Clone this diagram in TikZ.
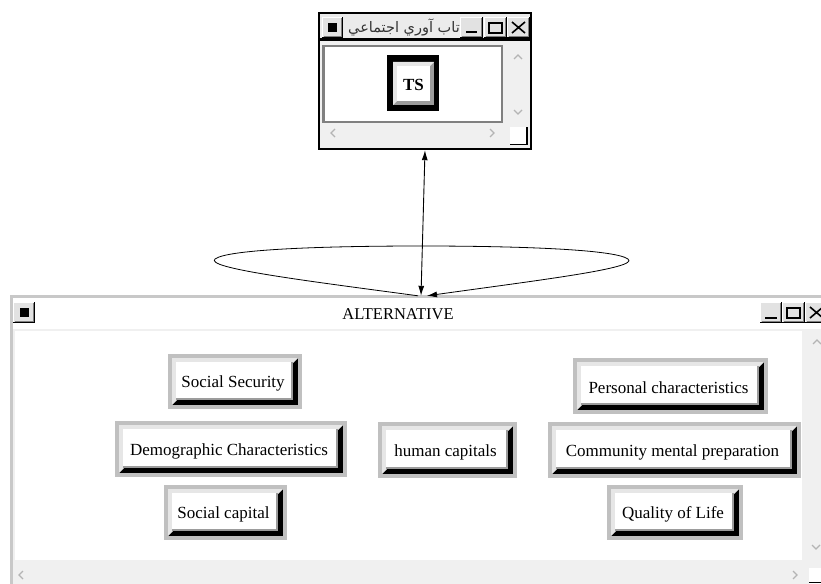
\documentclass[tikz,border=0pt]{standalone}
\usepackage{fontspec}
\setmainfont{Liberation Serif}
\newfontfamily\arabicfont[Script=Arabic]{DejaVu Sans}
\TeXXeTstate=1
\usetikzlibrary{arrows.meta}
\definecolor{framegray}{HTML}{C0C0C0}
\definecolor{winborder}{HTML}{C8C8C8}
\definecolor{scrollbg}{HTML}{F0F0F0}
\definecolor{chevgray}{HTML}{B4B4B4}
\definecolor{btnface}{HTML}{E2E2E2}
\definecolor{lightedge}{HTML}{E6E6E6}
\definecolor{midgray}{HTML}{9C9C9C}
\definecolor{boxborder}{HTML}{808080}
\definecolor{titlebg}{HTML}{EBEBEB}

\tikzset{
  btntext/.style={inner sep=0pt, font=\fontsize{17}{19}\selectfont},
  wintitle/.style={inner sep=0pt, font=\fontsize{16.5}{18}\selectfont},
  tip/.style={Latex[length=10pt,width=6pt]},
  conn/.style={line width=0.8pt, -{Latex[length=10pt,width=6pt]}},
  chev/.style={chevgray, line width=1.3pt},
  ghost/.style={inner sep=0pt, draw=none}
}

% bevelled box: name, x0, y0, x1, y1, text
\newcommand\mybtn[6]{%
  \fill[framegray] (#2,#3) rectangle (#4,#5);
  \fill[black] ({#2+4},{#3+4}) rectangle ({#4-4},{#5-4});
  \fill[lightedge] ({#2+4},{#3+4}) -- ({#4-4},{#3+4}) -- ({#4-9},{#3+9})
     -- ({#2+9},{#3+9}) -- ({#2+9},{#5-9}) -- ({#2+4},{#5-4}) -- cycle;
  \fill[midgray] ({#2+8},{#3+8}) rectangle ({#4-9},{#5-9});
  \fill[white] ({#2+8},{#3+8}) rectangle ({#4-11},{#5-11});
  \node[btntext] (#1) at ({(#2+#4)/2-2},{(#3+#5)/2+2}) {#6};
}
% window control button: x0 y0 x1 y1
\newcommand\winbtn[4]{%
  \fill[btnface] (#1,#2) rectangle (#3,#4);
  \draw[white, line width=1pt] ({#1+0.5},{#4-1}) -- ({#1+0.5},{#2+0.5}) -- ({#3-1},{#2+0.5});
  \draw[gray, line width=1pt] ({#1+1.5},{#4-1.5}) -- ({#3-1.5},{#4-1.5}) -- ({#3-1.5},{#2+1});
  \draw[black, line width=1pt] (#1,{#4-0.5}) -- ({#3-0.5},{#4-0.5}) -- ({#3-0.5},#2);
}
\newcommand\chevup[2]{\draw[chev] ({#1-4},{#2+4}) -- (#1,#2) -- ({#1+4},{#2+4});}
\newcommand\chevdown[2]{\draw[chev] ({#1-4},{#2-4}) -- (#1,#2) -- ({#1+4},{#2-4});}
\newcommand\chevleft[2]{\draw[chev] ({#1+4},{#2-4}) -- (#1,#2) -- ({#1+4},{#2+4});}
\newcommand\chevright[2]{\draw[chev] ({#1-4},{#2-4}) -- (#1,#2) -- ({#1-4},{#2+4});}

\begin{document}
\begin{tikzpicture}[x=1pt,y=-1pt]
\useasboundingbox (0,0) rectangle (821,583);
\clip (0,0) rectangle (821,583);
\fill[white] (0,0) rectangle (821,583);

% ---------------- top window ----------------
\node[ghost, minimum width=214pt, minimum height=138pt] (tw) at (425,81) {};
\fill[black] (318,12) rectangle (532,150);
\fill[titlebg] (320,14) rectangle (530,38.5);
\fill[black] (320,38.5) rectangle (530,41);
\fill[scrollbg] (320,41) rectangle (530,148);
\fill[white] (322,45) rectangle (503,123);
\draw[boxborder, line width=2.5pt] (323.5,46) rectangle (502,122);
% title bar buttons
\winbtn{322}{17}{343}{38}
\fill[black] (328,23) rectangle (337,32);
\winbtn{460}{17}{483}{38}
\draw[black, line width=2pt] (466,32) -- (477,32);
\winbtn{484}{17}{507}{38}
\draw[black, line width=1.2pt] (489,22.5) rectangle (502,33);
\draw[black, line width=1pt] (489,23.5) -- (502,23.5);
\winbtn{507}{17}{530}{38}
\draw[black, line width=1.6pt] (512,22) -- (525,33) (525,22) -- (512,33);
% title text
\begin{scope}
\clip (344,15) rectangle (460,38);
\node[inner sep=0pt, anchor=east, font=\arabicfont\fontsize{14.5}{16}\selectfont, text=black!80] (twtitle) at (460,27) {\beginR تاب آوري اجتماعي\endR};
\end{scope}
% scrollbars
\chevup{518}{55}
\chevdown{518}{114}
\chevleft{331}{133}
\chevright{494}{133}
\fill[white] (510,127) rectangle (527,145);
\draw[black, line width=1.5pt] (510,144.5) -- (527,144.5) -- (527,127);
% TS button
\fill[black] (387,55) rectangle (439,111);
\fill[midgray] (393,62) rectangle (434,105);
\fill[lightedge] (393,62) -- (434,62) -- (430,66) -- (397,66) -- (397,101) -- (393,105) -- cycle;
\fill[white] (397,66) rectangle (430,101);
\node[inner sep=0pt, font=\bfseries\fontsize{17}{19}\selectfont] (ts) at (413.5,84.5) {TS};

% ---------------- bottom window ----------------
\node[ghost, minimum width=822pt, minimum height=304pt] (bw) at (421,448) {};
\fill[winborder] (10,295) rectangle (830,590);
\fill[white] (13,298) rectangle (830,590);
\winbtn{13}{302}{35}{323}
\fill[black] (20,308) rectangle (29,317);
\node[wintitle] (bwtitle) at (398,314) {ALTERNATIVE};
\winbtn{760}{302}{782}{323}
\draw[black, line width=2pt] (765,318) -- (777,318);
\winbtn{782}{302}{805}{323}
\draw[black, line width=1.2pt] (787,307.5) rectangle (800,318);
\draw[black, line width=1pt] (787,308.5) -- (800,308.5);
\winbtn{805}{302}{828}{323}
\draw[black, line width=1.6pt] (810,307) -- (823,318) (823,307) -- (810,318);
% content frame and scrollbars
\draw[scrollbg, line width=2pt] (14,330) rectangle (803,561);
\fill[scrollbg] (804,329) rectangle (830,562);
\fill[scrollbg] (13,562) rectangle (830,590);
\chevup{817}{340}
\chevdown{816}{549}
\chevleft{19}{575}
\chevright{797}{575}
\fill[white] (809,568) rectangle (830,590);
\draw[black, line width=1.5pt] (809,582.5) -- (830,582.5);

% boxes
\mybtn{ss}{168}{354}{302}{409}{Social Security}
\mybtn{dc}{115}{421}{347}{477}{Demographic Characteristics}
\mybtn{sc}{164}{485}{287}{540}{Social capital}
\mybtn{hc}{378}{422}{517}{478}{human capitals}
\mybtn{pc}{573}{358}{768}{414}{Personal characteristics}
\mybtn{cm}{548}{422}{801}{478}{Community mental preparation}
\mybtn{ql}{607}{485}{743}{540}{Quality of Life}

% ---------------- connectors ----------------
\draw[line width=0.9pt, {Latex[length=10pt,width=6pt]}-{Latex[length=10pt,width=6pt]}] (tw.south) -- (bw.north);
\draw[conn] ([xshift=-3pt]bw.north) .. controls (300,280) and (205,268) .. (215,259)
   .. controls (228,249) and (330,246) .. (421,246)
   .. controls (512,246) and (614,249) .. (628,259)
   .. controls (640,268) and (540,280) .. ([xshift=6pt]bw.north);
\end{tikzpicture}
\end{document}
